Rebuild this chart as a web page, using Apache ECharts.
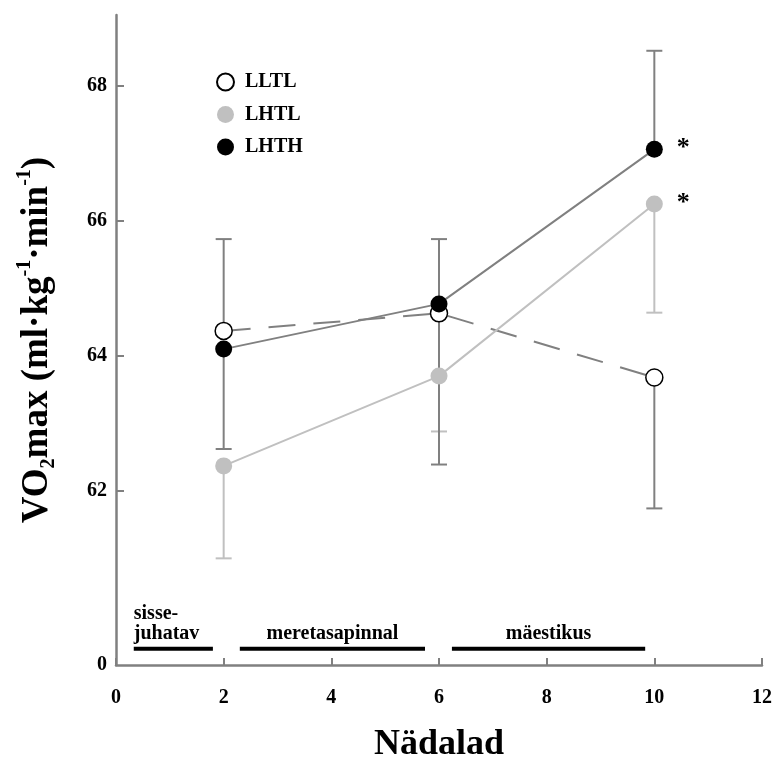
<!DOCTYPE html>
<html>
<head>
<meta charset="utf-8">
<script src="https://cdn.jsdelivr.net/npm/echarts@6/dist/echarts.min.js"></script>
<style>
html, body { margin: 0; padding: 0; background: #fff; }
#chart { width: 773px; height: 758px; }
</style>
</head>
<body>
<div id="chart"></div>
<script>
// weeks of measurement
var weeks = [2, 6, 10];
// VO2max means per group
var lltl = [64.37, 64.63, 63.68];
var lhtl = [62.37, 63.70, 66.25];
var lhth = [64.10, 64.77, 67.06];
// end of the (one-sided) SD bar for each point
var lltlErr = [65.73, 62.39, 61.74];
var lhtlErr = [61.00, 62.88, 64.64];
var lhthErr = [62.62, 65.73, 68.52];
// points marked with *
var lhtlStars = [2];
var lhthStars = [2];

// training phases (weeks)
var phaseNames = ['sisse-\njuhatav', 'meretasapinnal', 'mäestikus'];
var phaseStart = [0.33, 2.3, 6.24];
var phaseEnd = [1.8, 5.74, 9.83];

// axis: the bottom of the y axis stands for 0 (broken axis)
var yTicks = [62, 64, 66, 68];
var yBreakBottom = 59.42;
var yTop = 69.05;
var phaseLevel = 59.66;

var serif = '"Liberation Serif", "Times New Roman", serif';
var axisGray = '#808080';
var lightGray = '#c0c0c0';

var myChart = echarts.init(document.getElementById('chart'));

function pointData(values, stars) {
	return weeks.map(function (w, i) {
		var d = { value: [w, values[i]] };
		if (stars.indexOf(i) >= 0) {
			d.label = {
				show: true, formatter: '*', position: 'right', distance: 14,
				fontSize: 26, fontWeight: 'bold', fontFamily: serif, color: '#000',
				offset: [0, -1]
			};
		}
		return d;
	});
}

function errorBars(name, color, means, ends) {
	return {
		type: 'custom',
		name: name + ' SD',
		z: 1,
		silent: true,
		animation: false,
		data: weeks.map(function (w, i) { return [w, means[i], ends[i]]; }),
		encode: { x: 0, y: [1, 2] },
		renderItem: function (params, api) {
			var x = api.value(0);
			var p0 = api.coord([x, api.value(1)]);
			var p1 = api.coord([x, api.value(2)]);
			var st = { stroke: color, lineWidth: 2 };
			return {
				type: 'group',
				children: [
					{ type: 'line', shape: { x1: p0[0], y1: p0[1], x2: p1[0], y2: p1[1] }, style: st },
					{ type: 'line', shape: { x1: p1[0] - 8, y1: p1[1], x2: p1[0] + 8, y2: p1[1] }, style: st }
				]
			};
		}
	};
}

var option = {
	backgroundColor: '#fff',
	animation: false,
	grid: { left: 116, right: 11, top: 15, bottom: 93, outerBoundsMode: 'none', containLabel: false },
	legend: {
		data: ['LLTL', 'LHTL', 'LHTH'],
		orient: 'vertical',
		left: 211,
		top: 67,
		icon: 'circle',
		itemWidth: 17,
		itemHeight: 17,
		itemGap: 12.5,
		selectedMode: false,
		textStyle: { fontFamily: serif, fontWeight: 'bold', fontSize: 20, color: '#000', padding: [0, 0, 0, 6] }
	},
	xAxis: {
		type: 'value',
		min: 0,
		max: 12,
		interval: 2,
		name: 'Nädalad',
		nameLocation: 'middle',
		nameGap: 62,
		nameTextStyle: { fontFamily: serif, fontWeight: 'bold', fontSize: 36, color: '#000' },
		axisLine: { lineStyle: { color: axisGray, width: 2.5 } },
		axisTick: { inside: true, length: 7, lineStyle: { color: axisGray, width: 2 } },
		axisLabel: { margin: 23, fontFamily: serif, fontWeight: 'bold', fontSize: 20, color: '#000' },
		splitLine: { show: false }
	},
	yAxis: {
		type: 'value',
		min: yBreakBottom,
		max: yTop,
		name: '{t|VO}{sub|2}{t|max (ml·kg}{sup|-1}{t|·min}{sup|-1}{t|)}',
		nameLocation: 'middle',
		nameRotate: 90,
		nameGap: 57,
		nameTextStyle: {
			fontFamily: serif, fontWeight: 'bold', fontSize: 37, color: '#000', lineHeight: 44,
			rich: {
				t: { fontFamily: serif, fontWeight: 'bold', fontSize: 37, color: '#000', lineHeight: 44 },
				sub: { fontFamily: serif, fontWeight: 'bold', fontSize: 20, color: '#000', lineHeight: 26, verticalAlign: 'bottom' },
				sup: { fontFamily: serif, fontWeight: 'bold', fontSize: 20, color: '#000', lineHeight: 30, verticalAlign: 'top' }
			}
		},
		axisLine: { show: true, lineStyle: { color: axisGray, width: 2.5 } },
		axisTick: { show: true, inside: true, length: 8, lineStyle: { color: axisGray, width: 2 }, customValues: yTicks },
		axisLabel: {
			margin: 9, fontFamily: serif, fontWeight: 'bold', fontSize: 20, color: '#000',
			customValues: [yBreakBottom].concat(yTicks),
			formatter: function (v) { return v < yTicks[0] - 1 ? '0' : String(Math.round(v)); }
		},
		splitLine: { show: false }
	},
	series: [
		errorBars('LHTL', lightGray, lhtl, lhtlErr),
		errorBars('LLTL', axisGray, lltl, lltlErr),
		errorBars('LHTH', axisGray, lhth, lhthErr),
		{
			type: 'custom',
			name: 'phases',
			silent: true,
			data: phaseNames.map(function (n, i) { return [phaseStart[i], phaseEnd[i], phaseLevel]; }),
			encode: { x: [0, 1], y: 2 },
			renderItem: function (params, api) {
				var a = api.coord([api.value(0), api.value(2)]);
				var b = api.coord([api.value(1), api.value(2)]);
				var txt = phaseNames[params.dataIndex];
				var multi = txt.indexOf('\n') >= 0;
				return {
					type: 'group',
					children: [
						{ type: 'line', shape: { x1: a[0], y1: a[1], x2: b[0], y2: b[1] }, style: { stroke: '#000', lineWidth: 4 } },
						{
							type: 'text',
							x: multi ? a[0] : (a[0] + b[0]) / 2,
							y: a[1] - 5,
							style: {
								text: txt, fill: '#000', font: 'bold 20px ' + serif,
								align: multi ? 'left' : 'center', verticalAlign: 'bottom', lineHeight: 20
							}
						}
					]
				};
			}
		},
		{
			name: 'LLTL',
			type: 'line',
			z: 3,
			data: pointData(lltl, []),
			symbol: 'circle',
			symbolSize: 17,
			itemStyle: { color: '#fff', borderColor: '#000', borderWidth: 1.5 },
			lineStyle: { color: axisGray, width: 2, type: [27, 18] },
			emphasis: { disabled: true }
		},
		{
			name: 'LHTL',
			type: 'line',
			z: 3,
			data: pointData(lhtl, lhtlStars),
			symbol: 'circle',
			symbolSize: 17,
			itemStyle: { color: lightGray },
			lineStyle: { color: lightGray, width: 2 },
			emphasis: { disabled: true }
		},
		{
			name: 'LHTH',
			type: 'line',
			z: 3,
			data: pointData(lhth, lhthStars),
			symbol: 'circle',
			symbolSize: 17,
			itemStyle: { color: '#000' },
			lineStyle: { color: axisGray, width: 2 },
			emphasis: { disabled: true }
		}
	]
};

myChart.setOption(option);
</script>
</body>
</html>
